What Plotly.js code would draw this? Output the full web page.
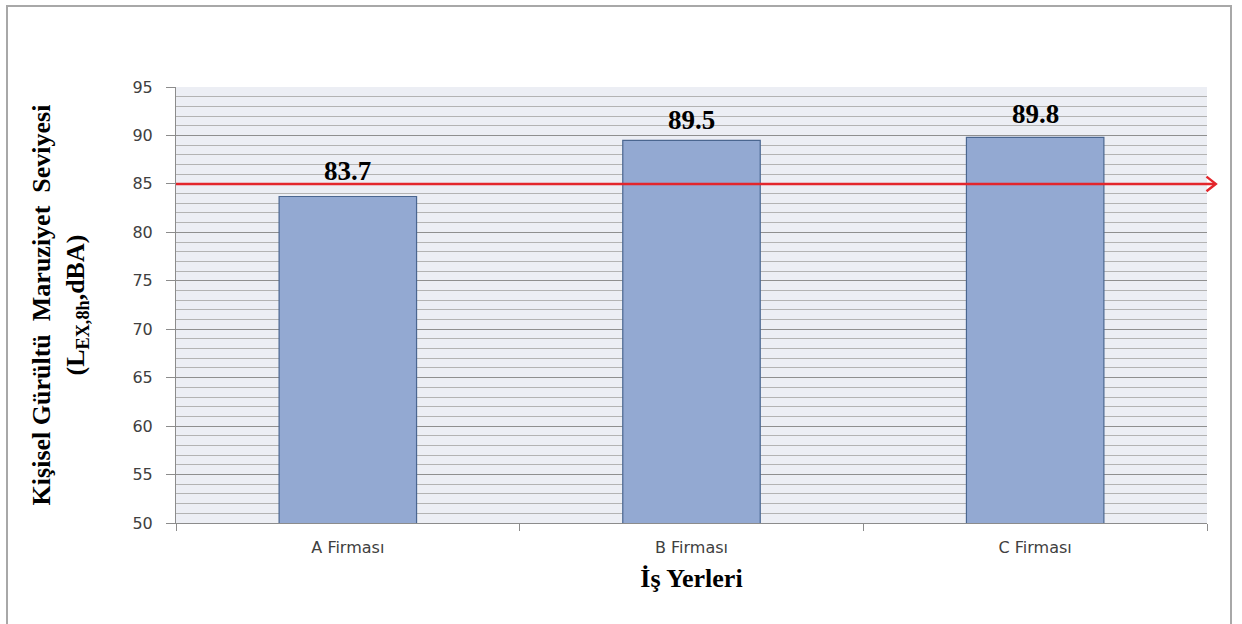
<!DOCTYPE html>
<html>
<head>
<meta charset="utf-8">
<script src="https://cdn.plot.ly/plotly-3.0.1.min.js"></script>
<style>
  html, body { margin: 0; padding: 0; background: #ffffff; }
  #wrap { position: relative; width: 1242px; height: 624px; overflow: hidden; }
  #chart { width: 1242px; height: 624px; }
  #frame {
    position: absolute; left: 6px; top: 5px; width: 1226px; height: 640px;
    border: 2px solid #a8a8a8; box-sizing: border-box; pointer-events: none;
  }
</style>
</head>
<body>
<div id="wrap">
  <div id="chart"></div>
  <div id="frame"></div>
</div>
<script>
// Workplaces and their personal noise exposure levels (dBA)
const categories = ['A Firması', 'B Firması', 'C Firması'];
const exposure = [83.7, 89.5, 89.8];
const valueLabels = ['83.7', '89.5', '89.8'];
const limitValue = 85;            // exposure action limit drawn as the red arrow
const yTicks = [50, 55, 60, 65, 70, 75, 80, 85, 90, 95];

const serif = 'Liberation Serif, Times New Roman, serif';
const sans = 'DejaVu Sans, Verdana, sans-serif';

const bars = {
  type: 'bar',
  x: categories,
  y: exposure,
  width: 0.4,
  marker: { color: '#93a9d2', line: { color: '#4a6690', width: 1.2 } },
  hoverinfo: 'x+y'
};

// vertical offsets of the value labels' centres above each bar top (px)
const labelShift = [25, 20, 23];
const annotations = categories.map((c, i) => ({
  x: c, y: exposure[i], xref: 'x', yref: 'y',
  text: '<b>' + valueLabels[i] + '</b>',
  showarrow: false, yanchor: 'middle', yshift: labelShift[i],
  font: { family: serif, size: 27, color: '#000000' }
}));

const shapes = [
  // limit line
  { type: 'line', xref: 'paper', yref: 'y', x0: 0, x1: 1.0078, y0: limitValue, y1: limitValue,
    line: { color: '#e3262c', width: 2.5 }, layer: 'above' },
  // open arrow head at the right end
  { type: 'path', xref: 'paper', yref: 'y',
    path: 'M 0.9995 ' + (limitValue + 0.75) + ' L 1.0085 ' + limitValue + ' L 0.9995 ' + (limitValue - 0.75),
    line: { color: '#e3262c', width: 2.5 }, layer: 'above' }
];

const layout = {
  width: 1242, height: 624,
  margin: { l: 176, r: 35, t: 87, b: 101 },
  paper_bgcolor: '#ffffff',
  plot_bgcolor: '#eceef4',
  showlegend: false,
  bargap: 0.6,
  xaxis: {
    type: 'category',
    tickson: 'boundaries',
    ticks: 'outside', ticklen: 7, tickcolor: '#8c8c8c', tickwidth: 1,
    showline: true, linecolor: '#8c8c8c', linewidth: 1,
    showgrid: false, zeroline: false,
    ticklabelstandoff: 10,
    tickfont: { family: sans, size: 16, color: '#404040' },
    title: { text: '<b>İş Yerleri</b>', font: { family: serif, size: 26, color: '#000000' }, standoff: 12 }
  },
  yaxis: {
    range: [50, 95],
    tickvals: yTicks,
    ticks: 'outside', ticklen: 9, tickcolor: '#8c8c8c', tickwidth: 1,
    showline: true, linecolor: '#8c8c8c', linewidth: 1,
    showgrid: true, gridcolor: '#8f8f8f', gridwidth: 1,
    minor: { dtick: 1, showgrid: true, gridcolor: '#b3b3b3', gridwidth: 1, ticks: '' },
    zeroline: false,
    ticklabelstandoff: 10,
    tickfont: { family: sans, size: 16, color: '#404040' },
    title: {
      text: '<b>Kişisel Gürültü  Maruziyet  Seviyesi<br>(L<sub>EX,8h</sub>,dBA)</b>',
      font: { family: serif, size: 26, color: '#000000' }, standoff: 40
    }
  },
  annotations: annotations,
  shapes: shapes
};

Plotly.newPlot('chart', [bars], layout, { displayModeBar: false, staticPlot: true });
</script>
</body>
</html>
